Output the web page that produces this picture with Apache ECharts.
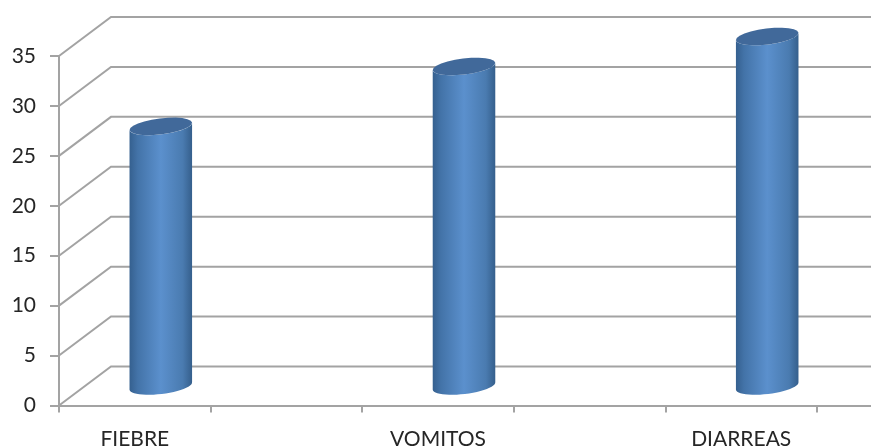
<!DOCTYPE html>
<html>
<head>
<meta charset="utf-8">
<style>html,body{margin:0;padding:0;background:#fff}#c{width:871px;height:447px}</style>
<script src="https://cdn.jsdelivr.net/npm/echarts@6/dist/echarts.min.js"></script>
</head>
<body>
<div id="c"></div>
<script>
const categories = ['FIEBRE', '', 'VOMITOS', '', 'DIARREAS', ''];
const casos = [26, null, 32, null, 35, null];
const yTicks = [0, 5, 10, 15, 20, 25, 30, 35];

const DEPTH_X = 52, DEPTH_Y = 39;
const GRID_COLOR = '#a3a3a3';
const bodyGradient = {
  type: 'linear', x: 0, y: 0, x2: 1, y2: 0,
  colorStops: [
    { offset: 0, color: '#35608f' },
    { offset: 0.13, color: '#4373a8' },
    { offset: 0.5, color: '#5b90cd' },
    { offset: 0.85, color: '#4a7bb0' },
    { offset: 1, color: '#355f8c' }
  ]
};

const chart = echarts.init(document.getElementById('c'), null, { renderer: 'canvas' });

// half-outline of a tilted ellipse, running from angle a0 to a1
function arc(cx, cy, rx, ry, tilt, a0, a1) {
  const pts = [];
  const c = Math.cos(tilt), s = Math.sin(tilt);
  for (let i = 0; i <= 24; i++) {
    const a = a0 + (a1 - a0) * i / 24;
    const ex = rx * Math.cos(a), ey = ry * Math.sin(a);
    pts.push([cx + ex * c + ey * s, cy - ex * s + ey * c]);
  }
  return pts;
}

chart.setOption({
  animation: false,
  backgroundColor: '#ffffff',
  grid: { left: 59, top: 56, width: 909.6, height: 349.5, containLabel: false, outerBoundsMode: 'none' },
  xAxis: {
    type: 'category',
    data: categories,
    boundaryGap: true,
    axisLine: { show: true, lineStyle: { color: GRID_COLOR, width: 2 } },
    axisTick: { show: true, alignWithLabel: false, interval: 0, length: 7, lineStyle: { color: GRID_COLOR, width: 2 } },
    axisLabel: { interval: 0, margin: 23, fontFamily: 'Lato', fontSize: 21, color: '#262626' },
    splitLine: { show: false }
  },
  yAxis: {
    type: 'value',
    min: 0, max: 35, interval: 5,
    axisLine: { show: true, lineStyle: { color: GRID_COLOR, width: 2 } },
    axisTick: { show: true, length: 9, lineStyle: { color: GRID_COLOR, width: 2 } },
    axisLabel: { margin: 23, fontFamily: 'Lato', fontSize: 21, color: '#262626' },
    splitLine: { show: false }
  },
  series: [
    {
      type: 'custom',
      name: 'Pared',
      silent: true,
      clip: false,
      z: 1,
      data: yTicks.map(v => [0, v]),
      encode: { x: 0, y: 1 },
      renderItem(params, api) {
        const cs = params.coordSys;
        const y = api.coord([0, api.value(1)])[1];
        return {
          type: 'polyline',
          shape: { points: [[cs.x, y], [cs.x + DEPTH_X, y - DEPTH_Y], [cs.x + cs.width, y - DEPTH_Y]] },
          style: { stroke: GRID_COLOR, lineWidth: 2, fill: null }
        };
      }
    },
    {
      type: 'custom',
      name: 'Casos',
      clip: false,
      z: 3,
      data: casos.map((v, i) => [i, v]),
      encode: { x: 0, y: 1 },
      renderItem(params, api) {
        const val = api.value(1);
        if (val == null || isNaN(val)) return null;
        const top = api.coord([api.value(0), val]);
        const base = api.coord([api.value(0), 0]);
        const cx = base[0] + DEPTH_X / 2;
        const yBase = base[1] - DEPTH_Y / 2;
        const yTop = top[1] - DEPTH_Y / 2;
        const rx = 31.5, ry = 8, tilt = 0.12;
        const body = arc(cx, yTop, rx, ry, tilt, Math.PI, 0)
          .concat(arc(cx, yBase, rx, ry, tilt, 0, Math.PI));
        return {
          type: 'group',
          children: [
            { type: 'polygon', shape: { points: body }, style: { fill: bodyGradient } },
            { type: 'polygon', shape: { points: arc(cx, yTop, rx, ry, tilt, 0, Math.PI * 2) }, style: { fill: '#41699a' } }
          ]
        };
      }
    }
  ]
});
</script>
</body>
</html>
